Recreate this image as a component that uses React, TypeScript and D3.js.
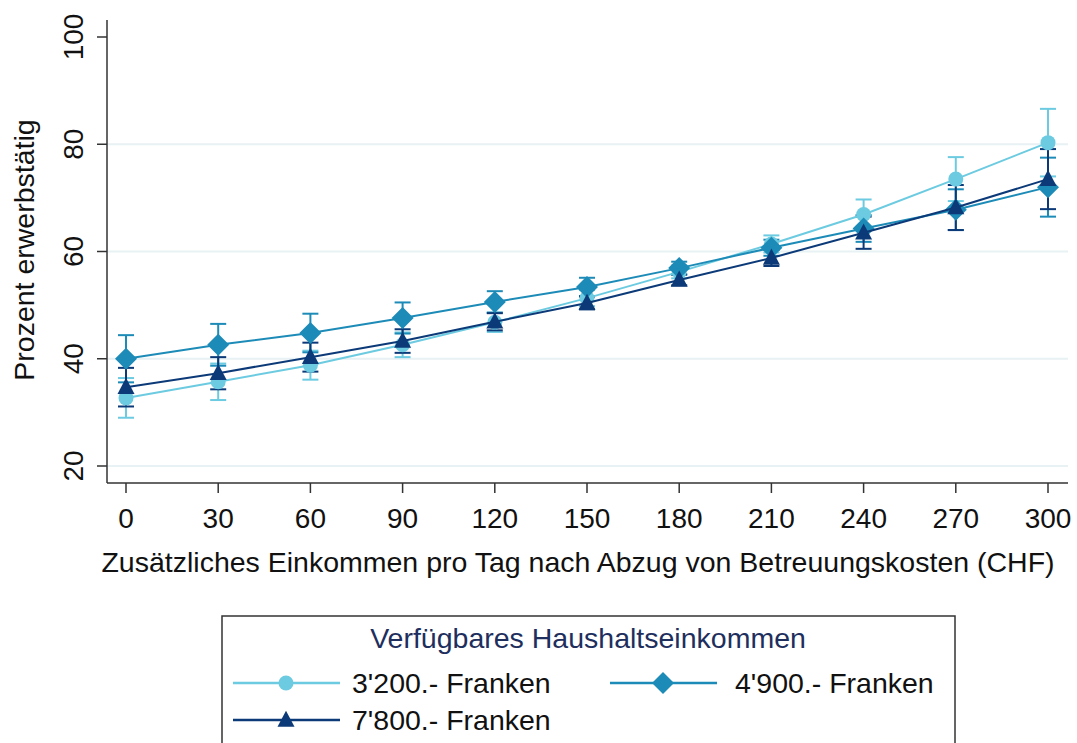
import React from "react";
import * as d3 from "d3";

const xValues = [0, 30, 60, 90, 120, 150, 180, 210, 240, 270, 300];
const yTicks = [20, 40, 60, 80, 100];
const seriesNames = ["3'200.- Franken", "4'900.- Franken", "7'800.- Franken"];
const seriesColors = ["#6ccbe0", "#1d8bb7", "#0c3a78"];
const seriesShapes = ["circle", "diamond", "triangle"];
const mean3200 = [32.7, 35.7, 38.8, 42.6, 46.8, 51.3, 56.2, 61.4, 66.9, 73.5, 80.3];
const ci3200 = [3.7, 3.4, 2.7, 2.3, 1.8, 1.5, 1.2, 1.6, 2.8, 4.1, 6.3];
const mean4900 = [40.0, 42.6, 44.8, 47.6, 50.6, 53.4, 56.9, 60.7, 64.3, 67.8, 72.0];
const ci4900 = [4.4, 3.9, 3.6, 2.9, 2.0, 1.7, 1.2, 1.5, 2.5, 3.8, 5.5];
const mean7800 = [34.7, 37.3, 40.3, 43.3, 46.9, 50.4, 54.7, 58.8, 63.5, 68.2, 73.5];
const ci7800 = [3.6, 3.0, 2.7, 2.2, 1.6, 1.2, 1.0, 1.5, 3.0, 4.2, 5.6];
const means = [mean3200, mean4900, mean7800];
const cis = [ci3200, ci4900, ci7800];

const font = "Arial, 'Liberation Sans', sans-serif";

function Marker({ shape, x, y, color }: { shape: string; x: number; y: number; color: string }) {
  if (shape === "circle") return <circle cx={x} cy={y} r={7.5} fill={color} />;
  if (shape === "diamond") {
    const s = 11;
    return <path d={`M${x},${y - s}L${x + s},${y}L${x},${y + s}L${x - s},${y}Z`} fill={color} />;
  }
  const s = 8.5;
  return <path d={`M${x},${y - s * 1.1}L${x + s},${y + s * 0.8}L${x - s},${y + s * 0.8}Z`} fill={color} />;
}

export default function App() {
  const W = 1077, H = 743;
  const x = d3.scaleLinear().domain([0, 300]).range([126, 1048]);
  const y = d3.scaleLinear().domain([20, 100]).range([466, 37]);
  const line = d3.line<number>().x((_, i) => x(xValues[i])).y((d) => y(d));
  const axisX = 107, axisBottom = 483;

  return (
    <svg width={W} height={H} style={{ position: "absolute", left: 0, top: 0, background: "#fff" }} fontFamily={font}>
      <rect x={0} y={0} width={W} height={H} fill="#fff" />
      {yTicks.map((t) => (
        <g key={t}>
          {t !== 100 && <line x1={axisX} x2={1068} y1={y(t)} y2={y(t)} stroke="#e8f1f3" strokeWidth={2} />}
          <line x1={axisX - 10} x2={axisX} y1={y(t)} y2={y(t)} stroke="#333" strokeWidth={1.5} />
          <text transform={`translate(83,${y(t)}) rotate(-90)`} textAnchor="middle" fontSize={28} fill="#111">{t}</text>
        </g>
      ))}
      <line x1={axisX} x2={axisX} y1={20} y2={axisBottom} stroke="#333" strokeWidth={1.5} />
      <line x1={axisX} x2={1068} y1={axisBottom} y2={axisBottom} stroke="#333" strokeWidth={1.5} />
      {xValues.map((v) => (
        <g key={v}>
          <line x1={x(v)} x2={x(v)} y1={axisBottom} y2={axisBottom + 10} stroke="#333" strokeWidth={1.5} />
          <text x={x(v)} y={528} textAnchor="middle" fontSize={28} fill="#111">{v}</text>
        </g>
      ))}
      <text x={578} y={572} textAnchor="middle" fontSize={28.5} fill="#111">
        Zusätzliches Einkommen pro Tag nach Abzug von Betreuungskosten (CHF)
      </text>
      <text transform={`translate(34,250) rotate(-90)`} textAnchor="middle" fontSize={28.5} fill="#111">Prozent erwerbstätig</text>

      {means.map((m, si) => (
        <g key={si}>
          {m.map((v, i) => {
            const cx = x(xValues[i]);
            const lo = y(v - cis[si][i]);
            const hi = y(v + cis[si][i]);
            return (
              <g key={i} stroke={seriesColors[si]} strokeWidth={2}>
                <line x1={cx} x2={cx} y1={lo} y2={hi} />
                <line x1={cx - 8} x2={cx + 8} y1={lo} y2={lo} />
                <line x1={cx - 8} x2={cx + 8} y1={hi} y2={hi} />
              </g>
            );
          })}
        </g>
      ))}
      {means.map((m, si) => (
        <g key={si}>
          <path d={line(m) || ""} fill="none" stroke={seriesColors[si]} strokeWidth={2} />
          {m.map((v, i) => (
            <Marker key={i} shape={seriesShapes[si]} x={x(xValues[i])} y={y(v)} color={seriesColors[si]} />
          ))}
        </g>
      ))}

      <rect x={222} y={616} width={733} height={140} fill="#fff" stroke="#333" strokeWidth={1.5} />
      <text x={588} y={648} textAnchor="middle" fontSize={28.5} fill="#1e2f5e">Verfügbares Haushaltseinkommen</text>
      {[
        { lx: 233, tx: 352, ty: 683 },
        { lx: 610, tx: 735, ty: 683 },
        { lx: 233, tx: 352, ty: 720 },
      ].map((p, si) => (
        <g key={si}>
          <line x1={p.lx} x2={p.lx + 107} y1={p.ty} y2={p.ty} stroke={seriesColors[si]} strokeWidth={2.5} />
          <Marker shape={seriesShapes[si]} x={p.lx + 53} y={p.ty} color={seriesColors[si]} />
          <text x={p.tx} y={p.ty + 10} fontSize={28.5} fill="#111">{seriesNames[si]}</text>
        </g>
      ))}
    </svg>
  );
}
